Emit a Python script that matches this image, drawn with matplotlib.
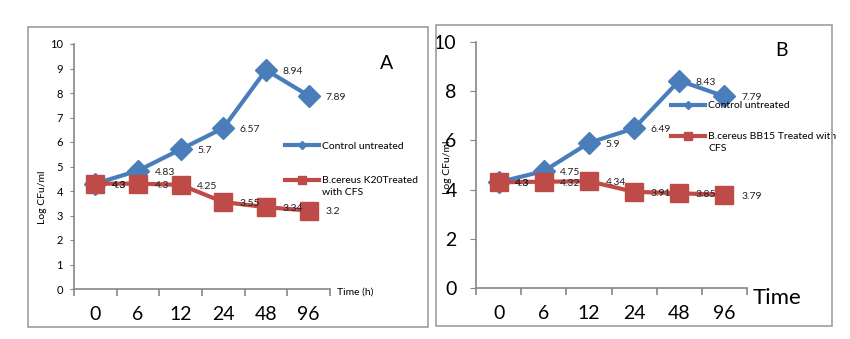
import numpy as np
import matplotlib
matplotlib.use('Agg')
import matplotlib.pyplot as plt
from matplotlib.lines import Line2D
from matplotlib.patches import Rectangle
from matplotlib.legend_handler import HandlerLine2D

#%% Data
times = ['0', '6', '12', '24', '48', '96']
control_a = [4.3, 4.83, 5.7, 6.57, 8.94, 7.89]
treated_a = [4.3, 4.3, 4.25, 3.55, 3.34, 3.2]
control_b = [4.3, 4.75, 5.9, 6.49, 8.43, 7.79]
treated_b = [4.3, 4.32, 4.34, 3.91, 3.85, 3.79]
label_control = 'Control untreated'
label_treated_a = 'B.cereus K20Treated\nwith CFS'
label_treated_b = 'B.cereus BB15 Treated with\nCFS'

blue = '#4a7ebb'
red = '#be4b48'
axis_col = '#868686'

plt.rcParams['font.family'] = ['Lato', 'DejaVu Sans']


class RaisedLine(HandlerLine2D):
    # legend handle lifted to the first line of a two-line label
    def __init__(self, lift=0, **kw):
        super().__init__(**kw)
        self.lift = lift

    def create_artists(self, legend, orig_handle, xdescent, ydescent,
                       width, height, fontsize, trans):
        return super().create_artists(legend, orig_handle, xdescent,
                                      ydescent - 2 * self.lift, width,
                                      height, fontsize, trans)


def panel(ax, control, treated, small_y):
    x = np.arange(len(times))
    ax.plot(x, control, color=blue, lw=3, marker='D', ms=11,
            mec=blue, zorder=3, clip_on=False)
    ax.plot(x, treated, color=red, lw=3, marker='s', ms=13,
            mec=red, zorder=4, clip_on=False)
    for xi, v in zip(x, control):
        ax.annotate('{:g}'.format(v), (xi, v), xytext=(12, -1),
                    textcoords='offset points', ha='left', va='center',
                    fontsize=7.5, color='#222222', zorder=6)
    for xi, v in zip(x, treated):
        ax.annotate('{:g}'.format(v), (xi, v), xytext=(12, -1),
                    textcoords='offset points', ha='left', va='center',
                    fontsize=7.5, color='#222222', zorder=6)
    ax.set_xlim(-0.5, len(times) - 0.5)
    ax.set_ylim(0, 10)
    for s in ['top', 'right']:
        ax.spines[s].set_visible(False)
    for s in ['left', 'bottom']:
        ax.spines[s].set_color(axis_col)
        ax.spines[s].set_linewidth(1.2)
    ax.set_xticks(x)
    ax.set_xticklabels(times, fontsize=14)
    ax.set_xticks(np.arange(-0.5, len(times)), minor=True)
    ax.tick_params(axis='x', which='major', length=0, pad=12)
    ax.tick_params(axis='x', which='minor', length=5, color=axis_col,
                   width=1.2)
    if small_y:
        ax.set_yticks(range(0, 11))
        ax.tick_params(axis='y', labelsize=8, length=3, color=axis_col,
                       pad=5)
    else:
        ax.set_yticks(range(0, 11, 2))
        ax.tick_params(axis='y', labelsize=14, length=4, color=axis_col,
                       pad=10)


fig = plt.figure(figsize=(8.5, 3.39), dpi=100)

# panel frames
fig.add_artist(Rectangle((28 / 850, 1 - 327 / 339), 400 / 850, 300 / 339,
                         transform=fig.transFigure, fill=False,
                         ec='#a6a6a6', lw=1.3))
fig.add_artist(Rectangle((436 / 850, 1 - 326 / 339), 396 / 850, 301 / 339,
                         transform=fig.transFigure, fill=False,
                         ec='#a6a6a6', lw=1.3))

#%% Panel A
ax1 = fig.add_axes([74 / 850, 1 - 289 / 339, 256 / 850, 245 / 339])
panel(ax1, control_a, treated_a, True)
ax1.text(-0.125, 0.376, 'Log CFu/ml', rotation=90, ha='center',
         va='center', fontsize=7.5, transform=ax1.transAxes)
ax1.text(1.098, -0.012, 'Time (h)', ha='center', va='center',
         fontsize=7.5, transform=ax1.transAxes)
ax1.text(1.22, 0.922, 'A', ha='center', va='center', fontsize=14,
         transform=ax1.transAxes)
h1 = Line2D([], [], color=blue, lw=3, marker='D', ms=4)
h2 = Line2D([], [], color=red, lw=3, marker='s', ms=6)
leg = ax1.legend([h1, h2], [label_control, label_treated_a],
                 loc='upper left', bbox_to_anchor=(0.824, 0.603),
                 frameon=False, fontsize=7.5, handlelength=3.3,
                 handletextpad=0.25, labelspacing=2.45, borderpad=0,
                 borderaxespad=0, numpoints=1,
                 handler_map={h2: RaisedLine(lift=4.5)})
leg.get_texts()[1].set_linespacing(1.35)

#%% Panel B
ax2 = fig.add_axes([476 / 850, 1 - 288 / 339, 271 / 850, 246 / 339])
panel(ax2, control_b, treated_b, False)
ax2.text(-0.105, 0.49, 'Log CFu/ml', rotation=90, ha='center',
         va='center', fontsize=7.5, transform=ax2.transAxes)
ax2.text(1.111, -0.04, 'Time', ha='center', va='center',
         fontsize=16, transform=ax2.transAxes)
ax2.text(1.129, 0.967, 'B', ha='center', va='center', fontsize=14,
         transform=ax2.transAxes)
h3 = Line2D([], [], color=blue, lw=3, marker='D', ms=4)
h4 = Line2D([], [], color=red, lw=3, marker='s', ms=6)
leg2 = ax2.legend([h3, h4], [label_control, label_treated_b],
                  loc='upper left', bbox_to_anchor=(0.72, 0.76),
                  frameon=False, fontsize=7.5, handlelength=3.3,
                  handletextpad=0.25, labelspacing=2.1, borderpad=0,
                  borderaxespad=0, numpoints=1,
                  handler_map={h4: RaisedLine(lift=4.5)})
leg2.get_texts()[1].set_linespacing(1.35)

fig.savefig('out.png', dpi=100)
